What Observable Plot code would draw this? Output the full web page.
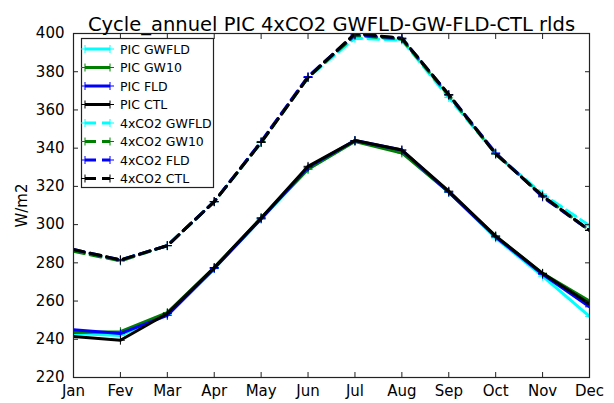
<!DOCTYPE html>
<html><head><meta charset="utf-8">
<script src="https://cdn.jsdelivr.net/npm/d3@7"></script>
<script src="https://cdn.jsdelivr.net/npm/@observablehq/plot@0.6"></script>
<style>
body{margin:0;background:#fff}
#wrap{position:relative;width:614px;height:403px}
#legend{position:absolute;left:0;top:0}
</style>
</head><body><div id="wrap"></div>
<script>
const months = ["Jan","Fev","Mar","Apr","May","Jun","Jul","Aug","Sep","Oct","Nov","Dec"];
const yTicks = [220,240,260,280,300,320,340,360,380,400];
const title = "Cycle_annuel PIC 4xCO2 GWFLD-GW-FLD-CTL rlds";
const yLabel = "W/m2";

const picGWFLD = [243, 242, 253, 277, 303, 329, 344, 338, 317, 293, 273, 252];
const picGW10  = [243.5, 244, 254, 277.5, 303.5, 329, 343.5, 337.5, 317, 294, 274.5, 260];
const picFLD   = [245, 243, 252.5, 277, 303, 330, 344, 339, 317, 293.5, 274, 257];
const picCTL   = [241.5, 239.5, 253.5, 277.5, 303.5, 330.5, 344, 339, 317.5, 294, 274.5, 258.5];
const co2GWFLD = [286.5, 281.5, 289, 312, 343, 377, 397.5, 396.5, 366.5, 337, 316, 299.5];
const co2GW10  = [286, 281, 289, 312, 343, 377, 399, 397, 367.5, 337, 315, 297];
const co2FLD   = [287, 281.5, 289, 312, 343.5, 377.5, 399.5, 397.5, 368, 337.5, 314.5, 297];
const co2CTL   = [287, 281.5, 289, 312, 343, 377, 400, 397.5, 368, 337, 315, 297];

const seriesNames = ["PIC GWFLD","PIC GW10","PIC FLD","PIC CTL","4xCO2 GWFLD","4xCO2 GW10","4xCO2 FLD","4xCO2 CTL"];
const seriesValues = [picGWFLD, picGW10, picFLD, picCTL, co2GWFLD, co2GW10, co2FLD, co2CTL];
const seriesColors = ["#00ffff","#008000","#0000ff","#000000","#00ffff","#008000","#0000ff","#000000"];
const seriesDashed = [false,false,false,false,true,true,true,true];

const plusSymbol = {draw(ctx, size){ const r = Math.sqrt(size)/2; ctx.moveTo(-r,0); ctx.lineTo(r,0); ctx.moveTo(0,-r); ctx.lineTo(0,r);} };
const FONT = "DejaVu Sans, sans-serif";

const marks = [];
seriesNames.forEach((name, k) => {
  const d = seriesValues[k].map((v, i) => ({x: i, y: v}));
  marks.push(Plot.line(d, {x: "x", y: "y", stroke: seriesColors[k], strokeWidth: 3,
    strokeDasharray: seriesDashed[k] ? "11,6" : null, clip: true}));
  marks.push(Plot.dot(d, {x: "x", y: "y", symbol: plusSymbol, r: 5, stroke: seriesColors[k], strokeWidth: 1, fill: "none", clip: true}));
});

const TK = 5;
const chart = Plot.plot({
  width: 614, height: 403,
  marginLeft: 73, marginRight: 25, marginTop: 33, marginBottom: 26,
  style: {fontFamily: FONT, background: "#fff"},
  x: {domain: [0, 11]},
  y: {domain: [220, 400]},
  marks: [
    ...marks,
    Plot.frame({stroke: "#222", strokeWidth: 1.2}),
    Plot.axisX({ticks: d3.range(12), tickFormat: i => months[i], tickSize: 0, tickPadding: 8, fontSize: 15, fill: "#000", label: null}),
    Plot.axisX({ticks: d3.range(1, 11), tickFormat: () => "", tickSize: TK, dy: -TK, stroke: "#222", label: null}),
    Plot.axisX({anchor: "top", ticks: d3.range(1, 11), tickFormat: () => "", tickSize: TK, dy: TK, stroke: "#222", label: null}),
    Plot.axisY({ticks: yTicks, tickSize: 0, tickPadding: 9, fontSize: 15, fill: "#000", label: yLabel, labelAnchor: "center", labelOffset: 57, labelArrow: "none"}),
    Plot.axisY({ticks: yTicks.slice(1, -1), tickFormat: () => "", tickSize: TK, dx: TK, label: null, stroke: "#222"}),
    Plot.axisY({anchor: "right", ticks: yTicks.slice(1, -1), tickFormat: () => "", tickSize: TK, dx: -TK, label: null, stroke: "#222"}),
    Plot.text([title], {frameAnchor: "top", dy: -16, fontSize: 19.5, fill: "#000"})
  ]
});
document.getElementById("wrap").appendChild(chart);

// legend overlay
const lg = d3.select("#wrap").append("svg").attr("id", "legend").attr("width", 614).attr("height", 403);
lg.append("rect").attr("x", 81.5).attr("y", 38.5).attr("width", 132).attr("height", 149)
  .attr("fill", "#fff").attr("stroke", "#222").attr("stroke-width", 1.2);
seriesNames.forEach((name, k) => {
  const yy = 49 + k * 18.5;
  const g = lg.append("g");
  g.append("line").attr("x1", 85).attr("x2", 110).attr("y1", yy).attr("y2", yy)
    .attr("stroke", seriesColors[k]).attr("stroke-width", 3)
    .attr("stroke-dasharray", seriesDashed[k] ? "11,6" : null);
  [85, 110].forEach(px => {
    g.append("path").attr("d", `M${px-4},${yy}H${px+4}M${px},${yy-4}V${yy+4}`)
      .attr("stroke", seriesColors[k]).attr("stroke-width", 1).attr("fill", "none");
  });
  g.append("text").attr("x", 120).attr("y", yy).attr("dy", "0.36em")
    .attr("font-family", FONT).attr("font-size", 12.5).attr("fill", "#000").text(name);
});
</script></body></html>
